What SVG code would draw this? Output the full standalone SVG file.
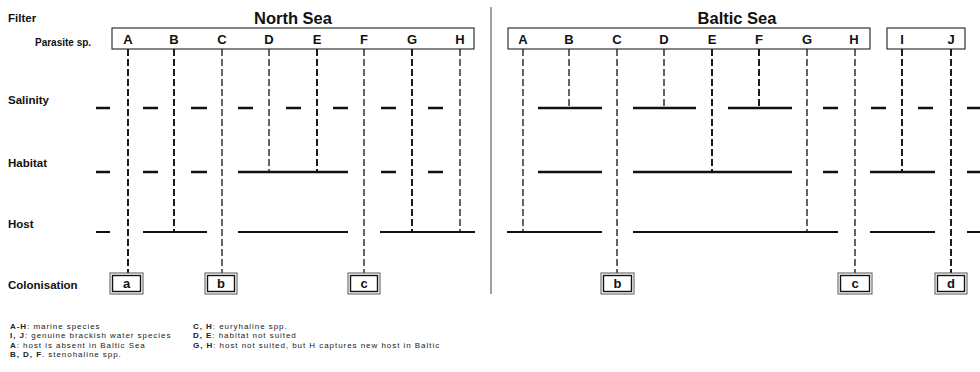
<svg xmlns="http://www.w3.org/2000/svg" width="980" height="372" viewBox="0 0 980 372">
<style>
text{font-family:"Liberation Sans",Arial,sans-serif;fill:#111}
.lab{font-size:11.5px;font-weight:bold}
.title{font-size:16.5px;font-weight:bold;text-anchor:middle}
.sp{font-size:13px;font-weight:bold;text-anchor:middle}
.leg{font-size:8px;letter-spacing:0.95px;fill:#222}
.hdr{fill:#fff;stroke:#222;stroke-width:1.1}
.seg{stroke:#111;stroke-width:2.6;fill:none}
.hl{stroke:#111;stroke-width:2;fill:none}
.vt{stroke:#111;stroke-width:1.9;stroke-dasharray:7 3;fill:none}
.vn{stroke:#111;stroke-width:1.3;stroke-dasharray:7 3;fill:none}
.bo{fill:#fff;stroke:#555;stroke-width:1}
.bi{fill:none;stroke:#111;stroke-width:1.4}
.box{font-size:13px;font-weight:bold;text-anchor:middle}
</style>
<rect width="980" height="372" fill="#fff"/>
<g id="labels">
<text class="lab" x="8" y="22">Filter</text>
<text x="35" y="46" style="font-size:10px;font-weight:bold">Parasite sp.</text>
<text class="lab" x="8" y="104">Salinity</text>
<text class="lab" x="8" y="167">Habitat</text>
<text class="lab" x="8" y="228">Host</text>
<text class="lab" x="8" y="289">Colonisation</text>
<text class="title" x="293" y="24">North Sea</text>
<text class="title" x="737" y="24">Baltic Sea</text>
</g>
<line x1="491" y1="7" x2="491" y2="294" stroke="#444" stroke-width="1"/>
<g id="header-north">
<rect class="hdr" x="112" y="28" width="362" height="21"/>
<text class="sp" x="128" y="44">A</text><text class="sp" x="174" y="44">B</text><text class="sp" x="222" y="44">C</text><text class="sp" x="269" y="44">D</text><text class="sp" x="317" y="44">E</text><text class="sp" x="364" y="44">F</text><text class="sp" x="412" y="44">G</text><text class="sp" x="460" y="44">H</text>
</g>
<g id="header-baltic">
<rect class="hdr" x="508" y="28" width="362" height="21"/>
<text class="sp" x="523" y="44">A</text><text class="sp" x="569" y="44">B</text><text class="sp" x="617" y="44">C</text><text class="sp" x="664" y="44">D</text><text class="sp" x="712" y="44">E</text><text class="sp" x="759" y="44">F</text><text class="sp" x="807" y="44">G</text><text class="sp" x="854" y="44">H</text>
<rect class="hdr" x="887" y="28" width="78" height="21"/>
<text class="sp" x="902" y="44">I</text><text class="sp" x="951" y="44">J</text>
</g>
<g id="filters">
<g id="salinity">
<path class="seg" d="M96 108H110M143 108H158M191 108H207M238 108H253M286 108H301M333 108H348M381 108H396M428 108H443"/>
<path class="seg" d="M538 108H602M633 108H696M728 108H792M823 108H838M871 108H886M918 108H933M967 108H980"/>
</g>
<g id="habitat">
<path class="seg" d="M96 172H110M143 172H158M191 172H207M238 172H348M381 172H396M428 172H443"/>
<path class="seg" d="M538 172H602M633 172H792M823 172H838M870 172H935M967 172H980"/>
</g>
<g id="host">
<path class="hl" d="M96 232H110M143 232H207M238 232H348M380 232H475"/>
<path class="hl" d="M507 232H602M633 232H838M870 232H935M967 232H980"/>
</g>
</g>
<g id="connectors">
<path class="vt" d="M128 49V273M174 49V232M317 49V172M412 49V232"/>
<path class="vn" d="M222 49V273M269 49V172M364 49V273M460 49V232"/>
<path class="vn" d="M523 49V232M569 49V108M617 49V273M664 49V108M807 49V232M855 49V273"/>
<path class="vt" d="M712 49V172M759 49V108M902 49V172M951 49V273"/>
</g>
<g id="col-north-a"><rect class="bo" x="110" y="273" width="33" height="21"/><rect class="bi" x="112.5" y="275.5" width="28" height="16"/><text class="box" x="126.5" y="288">a</text></g>
<g id="col-north-b"><rect class="bo" x="205" y="273" width="32" height="21"/><rect class="bi" x="207.5" y="275.5" width="27" height="16"/><text class="box" x="221" y="288">b</text></g>
<g id="col-north-c"><rect class="bo" x="348" y="273" width="32" height="21"/><rect class="bi" x="350.5" y="275.5" width="27" height="16"/><text class="box" x="364" y="288">c</text></g>
<g id="col-baltic-b"><rect class="bo" x="601" y="273" width="33" height="21"/><rect class="bi" x="603.5" y="275.5" width="28" height="16"/><text class="box" x="617.5" y="288">b</text></g>
<g id="col-baltic-c"><rect class="bo" x="838" y="273" width="34" height="21"/><rect class="bi" x="840.5" y="275.5" width="29" height="16"/><text class="box" x="855" y="288">c</text></g>
<g id="col-baltic-d"><rect class="bo" x="935" y="273" width="32" height="21"/><rect class="bi" x="937.5" y="275.5" width="27" height="16"/><text class="box" x="951" y="288">d</text></g>
<g id="legend">
<text class="leg" x="10" y="329"><tspan font-weight="bold">A-H</tspan>: marine species</text>
<text class="leg" x="10" y="338.3"><tspan font-weight="bold">I, J</tspan>: genuine brackish water species</text>
<text class="leg" x="10" y="347.6"><tspan font-weight="bold">A</tspan>: host is absent in Baltic Sea</text>
<text class="leg" x="10" y="357"><tspan font-weight="bold">B, D, F</tspan>. stenohaline spp.</text>
<text class="leg" x="193" y="329"><tspan font-weight="bold">C, H</tspan>: euryhaline spp.</text>
<text class="leg" x="193" y="338.3"><tspan font-weight="bold">D, E</tspan>: habitat not suited</text>
<text class="leg" x="193" y="347.6"><tspan font-weight="bold">G, H</tspan>: host not suited, but H captures new host in Baltic</text>
</g>
</svg>
